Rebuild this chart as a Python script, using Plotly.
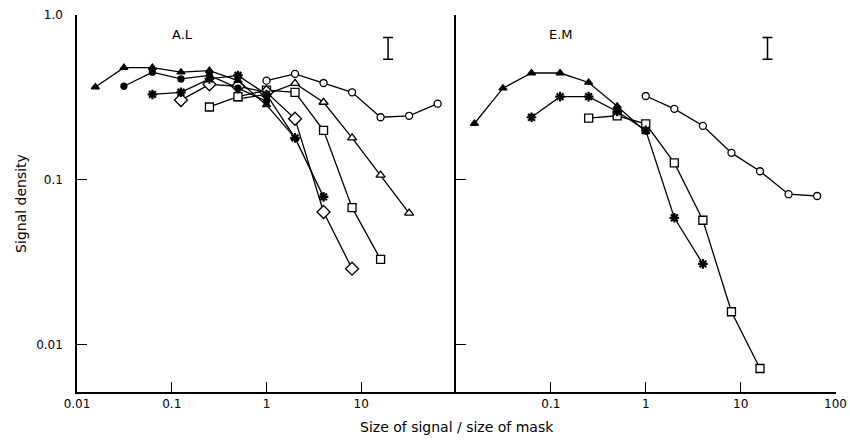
import plotly.graph_objects as go

# x values (size of signal / size of mask)
X = [1/64, 1/32, 1/16, 1/8, 1/4, 1/2, 1, 2, 4, 8, 16, 32, 64]

# Panel A.L
al_filled_tri_x = X[0:8]
al_filled_tri_y = [0.366, 0.48, 0.48, 0.45, 0.46, 0.40, 0.285, 0.18]
al_filled_circ_x = X[1:7]
al_filled_circ_y = [0.37, 0.45, 0.41, 0.43, 0.36, 0.30]
al_star_x = X[2:9]
al_star_y = [0.33, 0.34, 0.41, 0.43, 0.33, 0.18, 0.079]
al_diamond_x = X[3:10]
al_diamond_y = [0.305, 0.38, 0.37, 0.34, 0.235, 0.064, 0.029]
al_square_x = X[4:11]
al_square_y = [0.277, 0.32, 0.35, 0.34, 0.20, 0.068, 0.033]
al_open_tri_x = X[5:12]
al_open_tri_y = [0.31, 0.33, 0.385, 0.296, 0.18, 0.107, 0.063]
al_open_circ_x = X[6:13]
al_open_circ_y = [0.40, 0.44, 0.387, 0.34, 0.24, 0.245, 0.29]

# Panel E.M
em_filled_tri_x = X[0:7]
em_filled_tri_y = [0.22, 0.36, 0.445, 0.445, 0.39, 0.28, 0.196]
em_star_x = X[2:9]
em_star_y = [0.24, 0.32, 0.32, 0.26, 0.20, 0.059, 0.031]
em_square_x = X[4:11]
em_square_y = [0.237, 0.245, 0.219, 0.127, 0.057, 0.0159, 0.0072]
em_open_circ_x = X[6:13]
em_open_circ_y = [0.323, 0.27, 0.213, 0.146, 0.113, 0.082, 0.080]

# representative error bars
err_x = [19.2]
err_y = [0.63]
err_lo = [0.09]
err_hi = [0.10]

BLACK = "black"
fig = go.Figure()


def add(x, y, symbol, panel, filled=False, size=7, dash="solid"):
    xa, ya = ("x", "y") if panel == 1 else ("x2", "y2")
    marker = dict(symbol=symbol, size=size,
                  color=BLACK if filled else "white",
                  line=dict(color=BLACK, width=1.3))
    if symbol.startswith("asterisk"):
        marker = dict(symbol="asterisk-open", size=size,
                      line=dict(color=BLACK, width=2.2))
    fig.add_trace(go.Scatter(x=x, y=y, mode="lines+markers", xaxis=xa, yaxis=ya,
                             line=dict(color=BLACK, width=1.3, dash=dash),
                             marker=marker, showlegend=False, hoverinfo="skip"))


add(al_open_circ_x, al_open_circ_y, "circle", 1)
add(al_open_tri_x, al_open_tri_y, "triangle-up", 1, size=8)
add(al_square_x, al_square_y, "square", 1, size=8)
add(al_diamond_x, al_diamond_y, "diamond", 1, size=10)
add(al_star_x, al_star_y, "asterisk", 1, size=8)
add(al_filled_circ_x, al_filled_circ_y, "circle", 1, filled=True, size=6)
add(al_filled_tri_x, al_filled_tri_y, "triangle-up", 1, filled=True, size=7)

add(em_open_circ_x, em_open_circ_y, "circle", 2)
add(em_square_x, em_square_y, "square", 2, size=8)
add(em_star_x, em_star_y, "asterisk", 2, size=8)
add(em_filled_tri_x, em_filled_tri_y, "triangle-up", 2, filled=True, size=7)

for xa, ya in (("x", "y"), ("x2", "y2")):
    fig.add_trace(go.Scatter(x=err_x, y=err_y, mode="markers", xaxis=xa, yaxis=ya,
                             marker=dict(size=1, color="rgba(0,0,0,0)"),
                             error_y=dict(type="data", symmetric=False, array=err_hi,
                                          arrayminus=err_lo, color=BLACK,
                                          thickness=1.5, width=5),
                             showlegend=False, hoverinfo="skip"))

R = 14
split = (456 - 77) / (850 - R - 77)
yr = [-2.285, 0]
tickfont = dict(family="DejaVu Sans", size=12, color=BLACK)

common_x = dict(type="log", showgrid=False, zeroline=False, ticklabeloverflow="allow",
                automargin=False,
                showline=True, linecolor=BLACK, linewidth=1.5, ticks="inside",
                ticklen=10, tickwidth=1.2, tickcolor=BLACK, tickfont=tickfont)
common_y = dict(type="log", range=yr, showgrid=False, zeroline=False,
                showline=True, linecolor=BLACK, linewidth=1.5, ticks="inside",
                ticklen=10, tickwidth=1.2, tickcolor=BLACK, tickfont=tickfont)

fig.update_layout(
    width=850, height=442,
    margin=dict(l=77, r=R, t=15, b=50, autoexpand=False),
    paper_bgcolor="white", plot_bgcolor="white",
    xaxis=dict(domain=[0, split], anchor="y", range=[-2, 2],
               tickvals=[0.01, 0.1, 1, 10], ticktext=["0.01", "0.1", "1", "10"],
               **common_x),
    xaxis2=dict(domain=[split, 1], anchor="y2", range=[-2, 2.005],
                tickvals=[0.1, 1, 10, 100], ticktext=["0.1", "1", "10", "100"],
                **common_x),
    yaxis=dict(anchor="x", tickvals=[0.01, 0.1, 1], ticktext=["0.01", "0.1", "1.0"],
               ticklabelstandoff=10, automargin=False,
               title=dict(text="Signal density", font=dict(family="DejaVu Sans", size=14, color=BLACK),
                          standoff=6),
               **common_y),
    yaxis2=dict(anchor="x2", tickvals=[0.01, 0.1, 1], showticklabels=False,
                automargin=False, **common_y),
    annotations=[
        dict(text="Size of signal / size of mask", xref="paper", yref="paper",
             x=0.5, y=-0.065, xanchor="center", yanchor="top", showarrow=False,
             font=dict(family="DejaVu Sans", size=14, color=BLACK)),
        dict(text="A.L", xref="x", yref="y", x=-0.884, y=-0.121, showarrow=False,
             font=dict(family="DejaVu Sans", size=13, color=BLACK)),
        dict(text="E.M", xref="x2", yref="y2", x=-0.896, y=-0.121, showarrow=False,
             font=dict(family="DejaVu Sans", size=13, color=BLACK)),
    ],
)

fig.write_html("out.html")
